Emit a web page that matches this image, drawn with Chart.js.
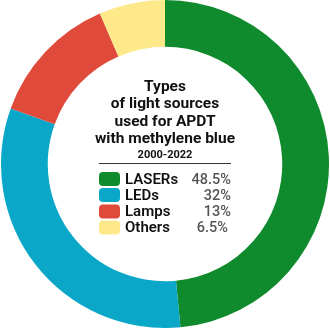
<!DOCTYPE html>
<html><head><meta charset="utf-8">
<script src="https://cdn.jsdelivr.net/npm/chart.js@4/dist/chart.umd.min.js"></script>
<style>html,body{margin:0;padding:0;background:#fff}#wrap{position:relative;width:330px;height:329px}</style>
</head><body><div id="wrap"><canvas id="c" width="330" height="329"></canvas></div>
<script>
const categories = ["LASERs", "LEDs", "Lamps", "Others"];
const values = [48.5, 32, 13, 6.5];
const valueLabels = ["48.5%", "32%", "13%", "6.5%"];
const colors = ["#0f8a2c", "#0aa7c8", "#e04a3a", "#fde98a"];
const titleLines = ["Types", "of light sources", "used for APDT", "with methylene blue"];
const subtitle = "2000-2022";

const centerPlugin = {
  id: 'centerText',
  afterDraw(chart) {
    const ctx = chart.ctx;
    const cx = (chart.chartArea.left + chart.chartArea.right) / 2;
    ctx.save();
    ctx.fillStyle = '#111';
    ctx.textAlign = 'center';
    ctx.textBaseline = 'middle';
    ctx.font = 'bold 15.5px Roboto';
    const ys = [87, 104.5, 122, 139.5];
    titleLines.forEach((t, i) => ctx.fillText(t, cx, ys[i]));
    ctx.font = 'bold 11px Roboto';
    ctx.fillText(subtitle, cx, 155.5);
    ctx.strokeStyle = '#333';
    ctx.lineWidth = 1.2;
    ctx.beginPath();
    ctx.moveTo(99, 163.5);
    ctx.lineTo(231, 163.5);
    ctx.stroke();
    const rows = [179, 195, 211.5, 227.5];
    categories.forEach((c, i) => {
      ctx.fillStyle = colors[i];
      ctx.beginPath();
      if (ctx.roundRect) ctx.roundRect(99, rows[i] - 7, 21, 14, 4); else ctx.rect(99, rows[i] - 7, 21, 14);
      ctx.fill();
      ctx.fillStyle = '#111';
      ctx.textAlign = 'left';
      ctx.font = '600 15px Roboto';
      ctx.fillText(c, 125, rows[i] + 1);
      ctx.fillStyle = '#555';
      ctx.textAlign = 'right';
      ctx.font = '500 14.5px Roboto';
      ctx.fillText(valueLabels[i], i === 3 ? 228 : 231, rows[i] + 1);
    });
    ctx.restore();
  }
};

new Chart(document.getElementById('c'), {
  type: 'doughnut',
  data: {
    labels: categories,
    datasets: [{ data: values, backgroundColor: colors, borderWidth: 0 }]
  },
  options: {
    responsive: false,
    animation: false,
    cutout: '71.5%',
    layout: { padding: { left: 1, right: 1, top: 0, bottom: 1 } },
    plugins: { legend: { display: false }, tooltip: { enabled: false } }
  },
  plugins: [centerPlugin]
});
</script></body></html>
